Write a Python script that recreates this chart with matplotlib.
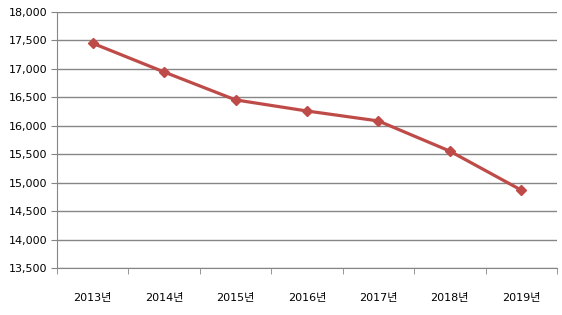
import matplotlib.pyplot as plt

plt.rcParams['font.family'] = ['DejaVu Sans', 'Noto Sans CJK KR']

years = ['2013년', '2014년', '2015년', '2016년', '2017년', '2018년', '2019년']
values = [17450, 16945, 16455, 16260, 16085, 15555, 14870]
y_ticks = list(range(13500, 18001, 500))

fig = plt.figure(figsize=(5.62, 3.15), dpi=100)
ax = fig.add_axes([0.1014, 0.149, 0.8896, 0.813])

x = list(range(len(years)))
ax.plot(x, values, color='#BE4B48', linewidth=2.3, marker='D', markersize=5.5,
        markeredgecolor='#BE4B48', markerfacecolor='#BE4B48', zorder=3)

ax.set_xlim(-0.5, len(years) - 0.5)
ax.set_ylim(13500, 18000)
ax.set_yticks(y_ticks)
ax.set_yticklabels([f'{v:,}' for v in y_ticks])
ax.grid(axis='y', color='#868686', linewidth=1)
ax.set_axisbelow(True)

# category labels centred, tick marks on boundaries
ax.set_xticks(x)
ax.set_xticklabels(years)
ax.set_xticks([i - 0.5 for i in range(len(years) + 1)], minor=True)
ax.tick_params(axis='x', which='major', length=0, pad=18, labelsize=8)
ax.tick_params(axis='x', which='minor', length=4, color='#868686', direction='out')
ax.tick_params(axis='y', length=4, color='#868686', labelsize=8, pad=3)

for s in ['top', 'right']:
    ax.spines[s].set_visible(False)
ax.spines['left'].set_color('#868686')
ax.spines['bottom'].set_color('#868686')

fig.savefig('out.png', dpi=100)
